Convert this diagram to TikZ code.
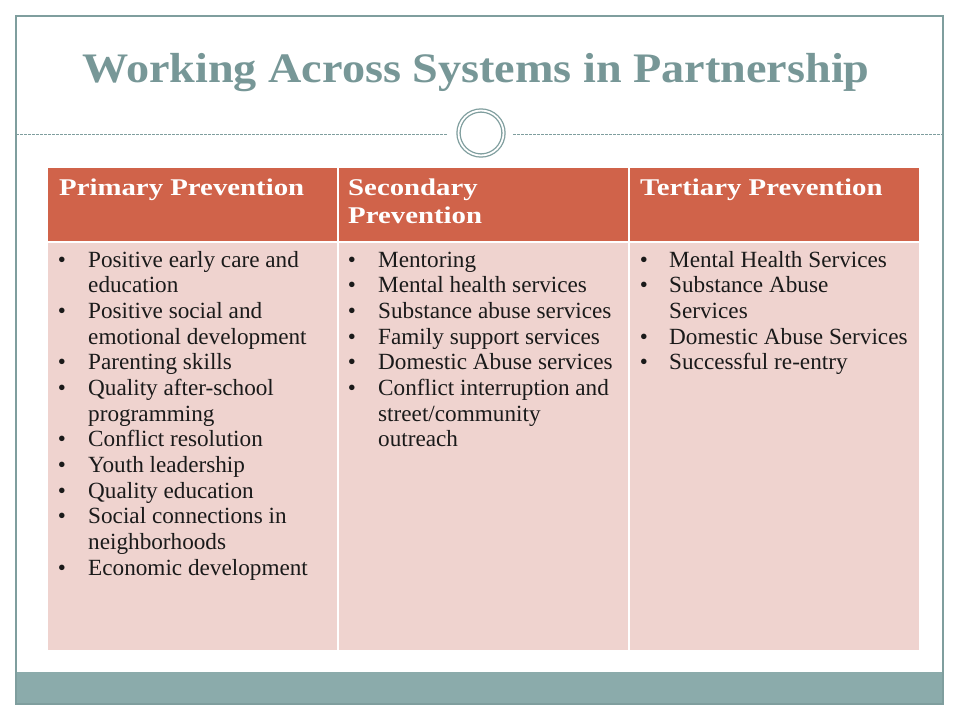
\documentclass[tikz,border=0pt]{standalone}
\usepackage{fontspec}
\setmainfont{Liberation Serif}
\newfontfamily\titlefont[FakeStretch=1.1]{Liberation Serif}
\newfontfamily\hdrfont[FakeStretch=1.2]{Liberation Serif}
\definecolor{framec}{HTML}{7F9E9E}
\definecolor{titlec}{HTML}{779797}
\definecolor{hdrc}{HTML}{D0634A}
\definecolor{bodyc}{HTML}{EFD3CF}
\definecolor{barc}{HTML}{8BABAB}
\definecolor{txtc}{HTML}{1A1A1A}
\tikzset{
  titletxt/.style={font=\titlefont\bfseries\fontsize{42}{48}\selectfont, text=titlec, inner sep=0, anchor=base},
  hdrtxt/.style={font=\hdrfont\bfseries\fontsize{24}{28}\selectfont, text=white, inner sep=0, anchor=base west},
  bodytxt/.style={font=\fontsize{23.2}{25.6}\selectfont, text=txtc, inner sep=0, anchor=base west},
  bul/.style={font=\fontsize{23}{24}\selectfont, text=txtc, inner sep=0, anchor=base},
  dashline/.style={draw=framec, line width=0.7pt, dash pattern=on 2.5pt off 1.5pt},
}
\begin{document}
\begin{tikzpicture}[x=1pt,y=-1pt]
\useasboundingbox (0,0) rectangle (960,720);
\fill[white] (0,0) rectangle (960,720);
% bottom bar and frame
\fill[barc] (16,672) rectangle (943,703);
\draw[framec, line width=1.4pt] (16,16) rectangle (943,704);
% title
\node[titletxt] (title) at (476,82) {Working Across Systems in Partnership};
% ring and dashed rule
\node[draw=framec, circle, line width=1.3pt, double=white, double distance=1.8pt, minimum size=45pt, inner sep=0] (ring) at (481,133) {};
\coordinate (dL1) at (16,134);
\coordinate (dL2) at (448,134);
\coordinate (dR1) at (513,134);
\coordinate (dR2) at (943,134);
\draw[dashline] (dL1) -- (dL2);
\draw[dashline] (dR1) -- (dR2);
% table
\fill[hdrc] (48,168) rectangle (919,241);
\fill[bodyc] (48,243) rectangle (919,650);
\draw[white, line width=1.5pt] (338,168) -- (338,650);
\draw[white, line width=1.5pt] (629,168) -- (629,650);
% headers
\node[hdrtxt] (h1) at (59,195) {Primary Prevention};
\node[hdrtxt] (h2a) at (348,195) {Secondary};
\node[hdrtxt] (h2b) at (348,223) {Prevention};
\node[hdrtxt] (h3) at (640,195) {Tertiary Prevention};
% column 1
\foreach \t [count=\i] in {Positive early care and, education, Positive social and, emotional development, Parenting skills, Quality after-school, programming, Conflict resolution, Youth leadership, Quality education, Social connections in, neighborhoods, Economic development}
  \node[bodytxt] (a\i) at (88,{267+25.67*(\i-1)}) {\t};
\foreach \i in {1,3,5,6,8,9,10,11,13}
  \node[bul] (ba\i) at (62,{267+25.67*(\i-1)}) {•};
% column 2
\foreach \t [count=\i] in {Mentoring, Mental health services, Substance abuse services, Family support services, Domestic Abuse services, Conflict interruption and, street/community, outreach}
  \node[bodytxt] (b\i) at (378,{267+25.67*(\i-1)}) {\t};
\foreach \i in {1,2,3,4,5,6}
  \node[bul] (bb\i) at (352,{267+25.67*(\i-1)}) {•};
% column 3
\foreach \t [count=\i] in {Mental Health Services, Substance Abuse, Services, Domestic Abuse Services, Successful re-entry}
  \node[bodytxt] (c\i) at (669,{267+25.67*(\i-1)}) {\t};
\foreach \i in {1,2,4,5}
  \node[bul] (bc\i) at (644,{267+25.67*(\i-1)}) {•};
\end{tikzpicture}
\end{document}
